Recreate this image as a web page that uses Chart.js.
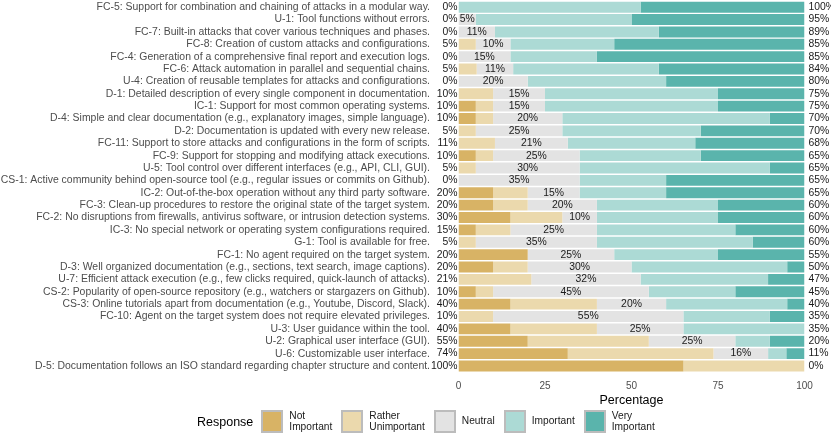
<!DOCTYPE html>
<html>
<head>
<meta charset="utf-8">
<script src="https://cdn.jsdelivr.net/npm/chart.js@4.4.1/dist/chart.umd.min.js"></script>
<style>
  html, body { margin: 0; padding: 0; background: #fff; }
  #wrap { position: relative; width: 831px; height: 441px; font-family: "Liberation Sans", Arial, sans-serif; }
  #leyenda { position: absolute; left: 197px; top: 410px; height: 23px; display: flex; align-items: center; }
  #leyenda .titulo { font-size: 12.5px; color: #000; margin-right: 8px; }
  #leyenda .item { display: flex; align-items: center; margin-right: 9px; }
  #leyenda .caja { width: 18px; height: 19px; border: 2px solid #bcbcbc; margin-right: 6px; }
  #leyenda .txt { font-size: 10.2px; line-height: 10.6px; color: #1a1a1a; }
</style>
</head>
<body>
<div id="wrap">
  <canvas id="grafico" width="831" height="441"></canvas>
  <div id="leyenda"></div>
</div>
<script>
// Items de la encuesta (de arriba hacia abajo)
const items = [
    "FC-5: Support for combination and chaining of attacks in a modular way.",
    "U-1: Tool functions without errors.",
    "FC-7: Built-in attacks that cover various techniques and phases.",
    "FC-8: Creation of custom attacks and configurations.",
    "FC-4: Generation of a comprehensive final report and execution logs.",
    "FC-6: Attack automation in parallel and sequential chains.",
    "U-4: Creation of reusable templates for attacks and configurations.",
    "D-1: Detailed description of every single component in documentation.",
    "IC-1: Support for most common operating systems.",
    "D-4: Simple and clear documentation (e.g., explanatory images, simple language).",
    "D-2: Documentation is updated with every new release.",
    "FC-11: Support to store attacks and configurations in the form of scripts.",
    "FC-9: Support for stopping and modifying attack executions.",
    "U-5: Tool control over different interfaces (e.g., API, CLI, GUI).",
    "CS-1: Active community behind open-source tool (e.g., regular issues or commits on Github).",
    "IC-2: Out-of-the-box operation without any third party software.",
    "FC-3: Clean-up procedures to restore the original state of the target system.",
    "FC-2: No disruptions from firewalls, antivirus software, or intrusion detection systems.",
    "IC-3: No special network or operating system configurations required.",
    "G-1: Tool is available for free.",
    "FC-1: No agent required on the target system.",
    "D-3: Well organized documentation (e.g., sections, text search, image captions).",
    "U-7: Efficient attack execution (e.g., few clicks required, quick-launch of attacks).",
    "CS-2: Popularity of open-source repository (e.g., watchers or stargazers on Github).",
    "CS-3: Online tutorials apart from documentation (e.g., Youtube, Discord, Slack).",
    "FC-10: Agent on the target system does not require elevated privileges.",
    "U-3: User guidance within the tool.",
    "U-2: Graphical user interface (GUI).",
    "U-6: Customizable user interface.",
    "D-5: Documentation follows an ISO standard regarding chapter structure and content."
];

// Porcentajes por respuesta
const notImportant      = [0, 0, 0, 0, 0, 0, 0, 0, 5, 5, 0, 0, 5, 0, 0, 10, 10, 15, 5, 0, 20, 10, 0, 5, 15, 0, 15, 20, 31.58, 65];
const ratherUnimportant = [0, 0, 0, 5, 0, 5.26, 0, 10, 5, 5, 5, 10.53, 5, 5, 0, 10, 10, 15, 10, 5, 0, 10, 21.05, 5, 25, 10, 25, 35, 42.11, 35];
const neutral           = [0, 5, 10.53, 10, 15, 10.53, 20, 15, 15, 20, 25, 21.05, 25, 30, 35, 15, 20, 10, 25, 35, 25, 30, 31.58, 45, 20, 55, 25, 25, 15.79, 0];
const important         = [52.63, 45, 47.37, 30, 25, 42.11, 40, 50, 50, 60, 40, 36.84, 35, 55, 25, 25, 35, 35, 40, 45, 30, 45, 36.84, 25, 35, 25, 35, 10, 5.26, 0];
const veryImportant     = [47.37, 50, 42.11, 55, 60, 42.11, 40, 25, 25, 10, 30, 31.58, 30, 10, 40, 40, 25, 25, 20, 15, 25, 5, 10.53, 20, 5, 10, 0, 10, 5.26, 0];

const respuestas = ["Not Important", "Rather Unimportant", "Neutral", "Important", "Very Important"];
const leyendaTxt = [["Not", "Important"], ["Rather", "Unimportant"], ["Neutral"], ["Important"], ["Very", "Important"]];
const colores = ["#d8b365", "#ebd9ad", "#e3e3e3", "#acdad5", "#5ab4ac"];
const ticksX = [0, 25, 50, 75, 100];

const series = [notImportant, ratherUnimportant, neutral, important, veryImportant];
const FUENTE = '"Liberation Sans", Arial, sans-serif';

// Etiquetas de porcentaje: izquierda, centro (neutral) y derecha
const etiquetasPct = {
    id: 'etiquetasPct',
    afterDatasetsDraw(chart) {
        const { ctx, scales: { x, y } } = chart;
        ctx.save();
        ctx.font = '10.4px ' + FUENTE;
        ctx.fillStyle = '#1a1a1a';
        ctx.textBaseline = 'middle';
        items.forEach((_, i) => {
            const py = y.getPixelForValue(i);
            const izq = notImportant[i] + ratherUnimportant[i];
            const der = important[i] + veryImportant[i];
            ctx.textAlign = 'right';
            ctx.fillText(Math.round(izq) + '%', x.getPixelForValue(0) - 1, py);
            ctx.textAlign = 'left';
            ctx.fillText(Math.round(der) + '%', x.getPixelForValue(100) + 4, py);
            if (neutral[i] > 0) {
                ctx.textAlign = 'center';
                ctx.fillText(Math.round(neutral[i]) + '%', x.getPixelForValue(izq + neutral[i] / 2), py);
            }
        });
        ctx.restore();
    }
};

new Chart(document.getElementById('grafico'), {
    type: 'bar',
    data: {
        labels: items,
        datasets: series.map((d, k) => ({
            label: respuestas[k],
            data: d,
            backgroundColor: colores[k],
            borderWidth: 0,
            barPercentage: 0.88,
            categoryPercentage: 1
        }))
    },
    options: {
        indexAxis: 'y',
        responsive: false,
        animation: false,
        layout: { padding: { top: 1, right: 26.5, bottom: 32.5, left: 0 } },
        plugins: { legend: { display: false }, tooltip: { enabled: false } },
        scales: {
            x: {
                stacked: true,
                min: 0, max: 100,
                afterBuildTicks: s => { s.ticks = ticksX.map(v => ({ value: v })); },
                afterFit: s => { s.height = 36.3; },
                grid: { display: false, drawTicks: false },
                border: { display: false },
                ticks: { color: '#4d4d4d', font: { family: FUENTE, size: 10 }, padding: 8 },
                title: { display: true, text: 'Percentage', color: '#000', font: { family: FUENTE, size: 12.5 }, padding: 0 }
            },
            y: {
                stacked: true,
                afterFit: s => { s.width = 458.5; s.paddingTop = 0; s.paddingBottom = 0; },
                grid: { display: false, drawTicks: false },
                border: { display: false },
                ticks: { autoSkip: false, color: '#4d4d4d', font: { family: FUENTE, size: 10.45 }, padding: 28.5 }
            }
        }
    },
    plugins: [etiquetasPct]
});

// Leyenda en HTML
const leyenda = document.getElementById('leyenda');
leyenda.innerHTML = '<span class="titulo">Response</span>' + respuestas.map((r, k) =>
    `<div class="item"><div class="caja" style="background:${colores[k]}"></div><div class="txt">${leyendaTxt[k].join('<br>')}</div></div>`
).join('');
</script>
</body>
</html>
